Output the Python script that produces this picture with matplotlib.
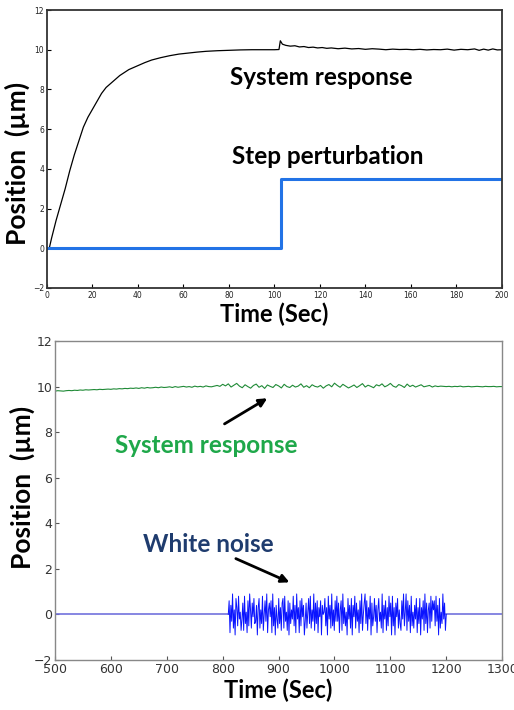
import numpy as np
import matplotlib
matplotlib.use('Agg')
import matplotlib.pyplot as plt

# --- top panel: step perturbation ---
resp_t = [0, 1, 2, 4, 6, 8, 10, 12, 14, 16, 18, 20, 22, 24, 26, 28, 30, 32, 34, 36, 38, 40,
          43, 46, 50, 54, 58, 62, 66, 70, 75, 80, 85, 90, 95, 100, 102, 102.6, 103.5, 105,
          107, 109, 111, 113, 115, 117, 119, 121, 123, 125, 128, 131, 134, 137, 140, 143,
          146, 149, 152, 155, 158, 161, 164, 167, 170, 173, 176, 179, 182, 185, 188, 190,
          192, 194, 196, 198, 200]
resp_v = [0, 0, 0.5, 1.4, 2.2, 3.0, 3.9, 4.7, 5.4, 6.1, 6.6, 7.0, 7.4, 7.8, 8.1, 8.3, 8.5,
          8.7, 8.85, 9.0, 9.1, 9.2, 9.35, 9.48, 9.6, 9.7, 9.78, 9.83, 9.88, 9.92, 9.95, 9.97,
          9.99, 10.0, 10.0, 10.0, 10.01, 10.45, 10.28, 10.22, 10.18, 10.2, 10.14, 10.16, 10.11,
          10.13, 10.09, 10.11, 10.07, 10.09, 10.05, 10.08, 10.04, 10.06, 10.02, 10.05, 10.03,
          10.0, 10.03, 10.01, 10.02, 10.0, 10.02, 9.99, 10.01, 10.0, 10.03, 9.98, 10.02, 10.0,
          10.04, 9.97, 10.03, 9.98, 10.04, 9.99, 10.0]
step_t = [0, 102.7, 102.7, 200]
step_v = [0, 0, 3.5, 3.5]

# --- bottom panel: white noise perturbation ---
green = [9.80, 9.82, 9.81, 9.80, 9.82, 9.83, 9.82, 9.84, 9.83, 9.85, 9.84, 9.86, 9.85, 9.86, 9.87, 9.86, 9.88, 9.87, 9.88, 9.89,
         9.88, 9.90, 9.89, 9.91, 9.90, 9.92, 9.91, 9.93, 9.92, 9.94, 9.92, 9.95, 9.93, 9.96, 9.94, 9.95, 9.97, 9.95, 9.98, 9.96,
         9.97, 9.99, 9.96, 10.00, 9.97, 9.99, 10.01, 9.98, 10.00, 9.97, 10.02, 9.99, 10.01, 9.98, 10.03, 10.00, 9.99, 10.02, 10.05, 10.01,
         10.10, 10.03, 10.12, 9.98, 10.06, 10.14, 10.02, 9.95, 10.08, 10.00, 9.93, 10.05, 10.11, 9.97, 10.04, 9.92, 10.07, 10.01, 9.96, 10.09,
         10.03, 9.94, 10.10, 10.00, 9.96, 10.06, 9.98, 10.02, 10.12, 9.97, 10.04, 9.95, 10.08, 10.01, 9.98, 10.05, 9.93, 10.03, 10.09, 9.99,
         10.15, 10.05, 9.97, 10.10, 10.02, 9.94, 10.00, 10.07, 9.96, 10.04, 10.13, 9.98, 10.06, 10.01, 9.95, 10.08, 10.03, 10.12, 9.99, 10.05,
         10.14, 10.02, 9.97, 10.09, 10.04, 9.96, 10.11, 10.00, 10.06, 9.98, 10.03, 10.08, 9.99, 10.02, 10.05, 9.98, 10.03, 10.00, 10.02, 10.01,
         10.00, 10.01, 9.99, 10.01, 10.00, 10.02, 9.99, 10.00, 10.01, 9.99, 10.00, 10.01, 10.00, 9.99, 10.01, 10.00, 10.00, 10.01, 9.99, 10.00, 10.00]
noise = [0.0, 0.6, -0.8, 0.4, -0.3, 0.9, -0.6, 0.2, -0.9, 0.7, 0.3, -0.5, 0.8, -0.2, 0.1, -0.7,
         -0.2, 0.5, -0.7, 0.8, -0.4, 0.1, -0.8, 0.6, -0.5, 0.9, 0.2, -0.6, 0.5, -0.1, 0.7, -0.4,
         -0.3, 0.4, -0.9, 0.3, 0.7, -0.6, 0.2, -0.4, 0.8, -0.7, 0.0, 0.6, -0.3, 0.9, -0.8, 0.2,
         0.5, -0.1, 0.6, -0.8, 0.9, -0.5, 0.3, -0.9, 0.4, -0.2, -0.6, 0.7, -0.4, 0.3, -0.7, 0.5,
         0.7, -0.6, 0.8, -0.3, 0.1, -0.7, 0.6, -0.9, 0.5, -0.4, 0.2, -0.2, 0.8, -0.5, 0.4, -0.8,
         0.9, -0.2, 0.3, -0.8, 0.6, -0.5, 0.7, -0.1, 0.4, -0.9, -0.3, 0.5, -0.6, 0.1, 0.7, -0.4,
         0.8, -0.6, 0.2, -0.3, 0.9, -0.7, 0.5, -0.4, 0.6, -0.8, 0.3, -0.1, 0.6, -0.9, 0.4, 0.0,
         0.1, 0.7, -0.5, 0.3, -0.9, 0.8, -0.2, 0.4, -0.6, 0.9, -0.5, 0.2, -0.7, 0.6, -0.3, 0.8,
         -0.3, 0.5, -0.8, 0.2, 0.6, -0.7, 0.9, -0.4, 0.3, -0.5, 0.1, -0.9, 0.7, -0.2, 0.4, -0.6,
         0.7, -0.9, 0.4, -0.1, 0.8, -0.6, 0.5, -0.3, 0.2, -0.8, 0.6, -0.4, 0.9, -0.7, 0.0, 0.5,
         0.9, -0.4, 0.6, -0.7, 0.3, -0.2, 0.8, -0.9, 0.5, -0.5, -0.1, 0.7, -0.3, 0.4, -0.8, 0.2,
         0.7, -0.3, 0.1, -0.6, 0.9, -0.8, 0.4, -0.2, 0.6, -0.7, 0.3, -0.5, 0.8, -0.1, 0.5, -0.9,
         0.8, -0.5, 0.3, -0.9, 0.5, -0.1, 0.7, -0.6, 0.2, -0.4, -0.7, 0.6, -0.2, 0.9, -0.5, 0.1,
         0.9, -0.7, 0.6, -0.3, 0.4, -0.8, 0.8, -0.5, 0.1, -0.6, 0.4, -0.2, 0.7, -0.8, 0.3, -0.4,
         0.7, -0.9, 0.3, -0.2, 0.6, -0.7, 0.9, -0.4, 0.5, -0.8, 0.2, 0.5, -0.6, 0.8, -0.3, 0.6,
         0.2, 0.6, -0.5, 0.8, -0.3, 0.4, -0.9, 0.7, -0.6, 0.1, -0.4, 0.9, -0.2, 0.5, -0.7, 0.0]
noise_start, noise_end = 810, 1200

bold = dict(family=['Lato', 'DejaVu Sans'], weight='bold')
lab_fs = 17.5

fig = plt.figure(figsize=(5.14, 7.10), dpi=100)

# top panel
ax1 = fig.add_axes([0.0914, 0.5944, 0.885, 0.3915])
ax1.plot(resp_t, resp_v, color='black', lw=0.9)
ax1.plot(step_t, step_v, color='#2273e6', lw=2.2)
ax1.set_xlim(0, 200)
ax1.set_ylim(-2, 12)
ax1.set_xticks(range(0, 201, 20))
ax1.set_yticks(range(-2, 13, 2))
ax1.tick_params(direction='in', length=3, labelsize=5.5, labelcolor='#222222', pad=2)
for s in ax1.spines.values():
    s.set_linewidth(1.3)
    s.set_color('#333333')
ax1.set_xlabel('Time (Sec)', fontsize=17, labelpad=2, **bold)
fig.text(17 / 514, 1 - 163 / 710, 'Position  (\u00b5m)', fontsize=19, rotation=90,
         ha='center', va='center', **bold)
ax1.text(80.5, 8.6, 'System response', fontsize=lab_fs, ha='left', va='center', **bold)
ax1.text(81.5, 4.6, 'Step perturbation', fontsize=lab_fs, ha='left', va='center', **bold)

# bottom panel
ax2 = fig.add_axes([0.107, 0.0704, 0.870, 0.4493])
t_green = np.linspace(500, 1300, len(green))
t_noise = np.linspace(noise_start, noise_end, len(noise))
ax2.plot(t_green, green, color='#1f8a36', lw=0.8)
ax2.plot([500, noise_start], [0, 0], color='#7272dd', lw=1.2)
ax2.plot([noise_end, 1300], [0, 0], color='#7272dd', lw=1.2)
ax2.plot(t_noise, noise, color='#0a14ff', lw=0.7)
ax2.set_xlim(500, 1300)
ax2.set_ylim(-2, 12)
ax2.set_xticks(range(500, 1301, 100))
ax2.set_yticks(range(-2, 13, 2))
ax2.tick_params(direction='in', length=3, labelsize=9, labelcolor='#333333', color='#555555', pad=2)
for s in ax2.spines.values():
    s.set_linewidth(1.0)
    s.set_color('#888888')
ax2.set_xlabel('Time (Sec)', fontsize=17, labelpad=2, **bold)
fig.text(22 / 514, 1 - 487 / 710, 'Position  (\u00b5m)', fontsize=19, rotation=90,
         ha='center', va='center', **bold)
ax2.text(607, 7.4, 'System response', color='#1fa84a', fontsize=lab_fs, ha='left', va='center', **bold)
ax2.annotate('', xy=(884, 9.55), xytext=(799, 8.3),
             arrowprops=dict(arrowstyle='-|>', color='black', lw=2, mutation_scale=12))
ax2.text(657, 3.05, 'White noise', color='#1f3c6e', fontsize=lab_fs, ha='left', va='center', **bold)
ax2.annotate('', xy=(924, 1.36), xytext=(819, 2.5),
             arrowprops=dict(arrowstyle='-|>', color='black', lw=2, mutation_scale=12))

fig.savefig('out.png', dpi=100)
